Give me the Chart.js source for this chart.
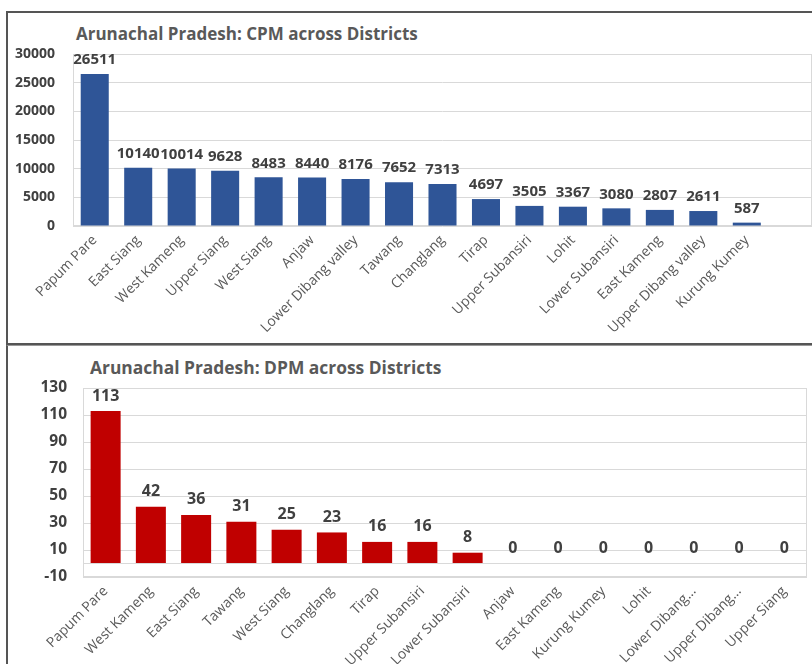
<!DOCTYPE html>
<html><head><meta charset="utf-8">
<script src="https://cdn.jsdelivr.net/npm/chart.js@4.4.1/dist/chart.umd.min.js"></script>
<style>
html,body{margin:0;padding:0;background:#fff;overflow:hidden;width:812px;height:664px;}
.panel{position:absolute;box-sizing:border-box;}
#p1{left:6px;top:11px;width:830px;height:334px;border-left:2px solid #555;border-top:2px solid #555;border-bottom:2px solid #555;}
#p2{left:6px;top:345px;width:830px;height:330px;border-left:2px solid #555;border-top:1px solid #999;}
.title{position:absolute;font-family:"Open Sans";font-weight:700;color:#595959;white-space:nowrap;line-height:20px;}
#t1{left:76px;top:24px;font-size:17px;}
#t2{left:90px;top:357px;font-size:17.4px;}
canvas{position:absolute;left:0;}
#c1{top:0;}
#c2{top:345px;}
</style></head><body>
<div class="panel" id="p1"></div><div class="panel" id="p2"></div>
<div class="title" id="t1">Arunachal Pradesh: CPM across Districts</div>
<div class="title" id="t2">Arunachal Pradesh: DPM across Districts</div>
<canvas id="c1" width="812" height="343"></canvas>
<canvas id="c2" width="812" height="319"></canvas>
<script>
const cpmDistricts = ['Papum Pare','East Siang','West Kameng','Upper Siang','West Siang','Anjaw','Lower Dibang valley','Tawang','Changlang','Tirap','Upper Subansiri','Lohit','Lower Subansiri','East Kameng','Upper Dibang valley','Kurung Kumey',''];
const cpmValues = [26511,10140,10014,9628,8483,8440,8176,7652,7313,4697,3505,3367,3080,2807,2611,587,null];
const cpmTicks = [0,5000,10000,15000,20000,25000,30000];

const dpmDistricts = ['Papum Pare','West Kameng','East Siang','Tawang','West Siang','Changlang','Tirap','Upper Subansiri','Lower Subansiri','Anjaw','East Kameng','Kurung Kumey','Lohit','Lower Dibang...','Upper Dibang...','Upper Siang'];
const dpmValues = [113,42,36,31,25,23,16,16,8,0,0,0,0,0,0,0];
const dpmTicks = [-10,0,10,30,50,70,90,110,130];

const plotFrame = {
  id:'plotFrame',
  beforeDatasetsDraw(chart){
    const a = chart.chartArea, ctx = chart.ctx;
    ctx.save();
    ctx.strokeStyle = '#d9d9d9'; ctx.lineWidth = 1;
    ctx.strokeRect(a.left+0.5, a.top+0.5, a.width-1, a.height-1);
    ctx.restore();
  }
};
const valueLabels = {
  id:'valueLabels',
  afterDatasetsDraw(chart, args, opts){
    const ctx = chart.ctx, meta = chart.getDatasetMeta(0), data = chart.data.datasets[0].data;
    ctx.save();
    ctx.font = opts.font; ctx.fillStyle = '#404040';
    ctx.textAlign = 'center'; ctx.textBaseline = 'middle';
    meta.data.forEach((bar,i)=>{
      if (data[i] == null) return;
      ctx.fillText(String(data[i]), bar.x, Math.min(bar.y, bar.base) - opts.offset);
    });
    ctx.restore();
  }
};

function makeChart(id, labels, values, ticks, cfg){
  return new Chart(document.getElementById(id), {
    type:'bar',
    data:{labels, datasets:[{data:values, backgroundColor:cfg.color, categoryPercentage:1, barPercentage:cfg.barPct}]},
    plugins:[plotFrame, valueLabels],
    options:{
      responsive:false, animation:false,
      layout:{padding:cfg.padding},
      plugins:{legend:{display:false}, tooltip:{enabled:false}, title:{display:false},
        valueLabels:{font:cfg.labelFont, offset:cfg.labelOffset}},
      scales:{
        x:{grid:{display:false, drawTicks:false}, border:{display:false},
           ticks:{autoSkip:false, minRotation:45, maxRotation:45, color:'#595959', padding:cfg.xPad,
                  font:{family:'Open Sans', size:14}},
           afterFit(s){ s.height = cfg.xHeight; }},
        y:{min:ticks[0], max:ticks[ticks.length-1],
           afterBuildTicks(s){ s.ticks = ticks.map(v=>({value:v})); },
           grid:{color:'#d9d9d9', drawTicks:false}, border:{display:false},
           ticks:{color:'#404040', padding:cfg.yPad, font:{family:'Open Sans', size:cfg.yFont, weight:'bold'},
                  callback:(v)=> v===0 && cfg.hideZero ? '' : String(v)},
           afterFit(s){ s.width = cfg.yWidth; }}
      }
    }
  });
}

makeChart('c1', cpmDistricts, cpmValues, cpmTicks, {
  color:'#2F5597', barPct:0.645, padding:{top:54,left:0,right:0,bottom:0},
  labelFont:'bold 15px "Open Sans"', labelOffset:14, xPad:6, xHeight:117,
  yPad:18, yFont:14, yWidth:73, hideZero:false
});
makeChart('c2', dpmDistricts, dpmValues, dpmTicks, {
  color:'#C00000', barPct:0.663, padding:{top:43,left:0,right:5,bottom:0},
  labelFont:'bold 16px "Open Sans"', labelOffset:15, xPad:6, xHeight:87,
  yPad:16, yFont:15.5, yWidth:83, hideZero:true
});
</script>
</body></html>
